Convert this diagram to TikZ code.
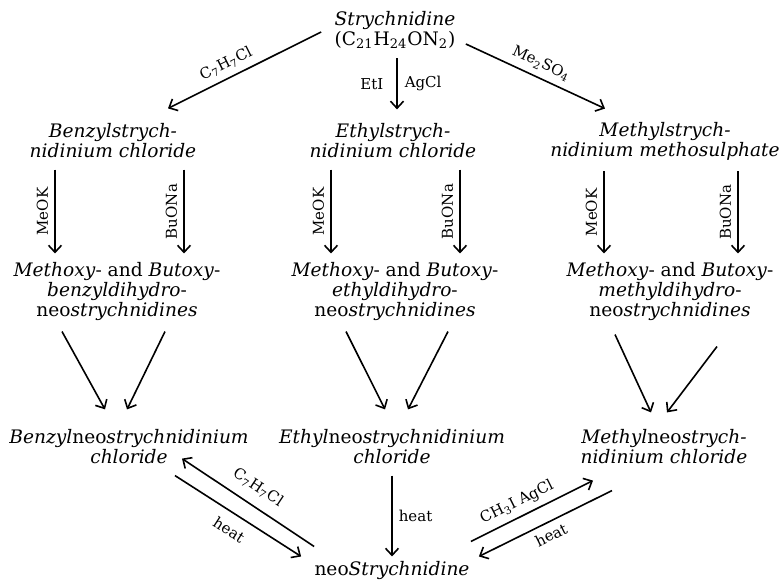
\documentclass[tikz,border=0pt]{standalone}
\usepackage{fontspec}
\setmainfont{DejaVu Serif}
\usetikzlibrary{positioning,arrows.meta}
\tikzset{cpd node/.style={align=center,inner sep=0pt,font=\fontsize{9.3}{10}\selectfont},
         reag node/.style={inner sep=3pt,font=\fontsize{7.5}{8}\selectfont},
            }

\begin{document}
\begin{tikzpicture}[x=0.5pt,y=-0.5pt,>={Straight Barb[length=3.5pt,width=6.5pt]}]
    \useasboundingbox (0,0) rectangle (782,581);

    \node[cpd node] (strych) at (395,30) {\textit{Strychnidine}\\(C\textsubscript{21}H\textsubscript{24}ON\textsubscript{2})};

    \node[cpd node] (benz) at (113,141) {\textit{Benzylstrych-}\\\textit{nidinium chloride}};
    \node[cpd node] (ethyl) at (393,141) {\textit{Ethylstrych-}\\\textit{nidinium chloride}};
    \node[cpd node] (methyl) at (665,141) {\textit{Methylstrych-}\\\textit{nidinium methosulphate}};

    \node[cpd node] (benzdh) at (117,292) {\textit{Methoxy}- and \textit{Butoxy}-\\\textit{benzyldihydro}-\\neo\textit{strychnidines}};
    \node[cpd node] (ethdh) at (395,292) {\textit{Methoxy}- and \textit{Butoxy}-\\\textit{ethyldihydro}-\\neo\textit{strychnidines}};
    \node[cpd node] (methdh) at (670,292) {\textit{Methoxy}- and \textit{Butoxy}-\\\textit{methyldihydro}-\\neo\textit{strychnidines}};

    \node[cpd node] (benzneo) at (129,447) {\textit{Benzyl}neo\textit{strychnidinium}\\\textit{chloride}};
    \node[cpd node] (ethneo) at (392,447) {\textit{Ethyl}neo\textit{strychnidinium}\\\textit{chloride}};
    \node[cpd node] (methneo) at (664,447) {\textit{Methyl}neo\textit{strych-}\\\textit{nidinium chloride}};

    \node[cpd node] (neo) at (392,571) {neo\textit{Strychnidine}};

    % quaternary salts
    \path[draw,thick]
    ([shift={(55,-15)}]benz.north) edge[<-] node[reag node,sloped,above,pos=0.42] {C\textsubscript{7}H\textsubscript{7}Cl} ([shift={(-13,2)}]strych.west)
    ([shift={(2,9)}]strych.south) edge[->] node[reag node,left=3.5pt] {EtI} node[reag node,right=0.5pt] {AgCl} ([shift={(4,-14)}]ethyl.north)
    ([shift={(10,14)}]strych.east) edge[->] node[reag node,sloped,above] {Me\textsubscript{2}SO\textsubscript{4}} ([shift={(-60,-13)}]methyl.north);

    % alkoxides
    \path[draw,thick]
    ([shift={(-58,11)}]benz.south) edge[->] node[reag node,rotate=90,anchor=south] {MeOK} ([shift={(-62,-9)}]benzdh.north)
    ([shift={(71,11)}]benz.south) edge[->] node[reag node,rotate=90,anchor=south] {BuONa} ([shift={(67,-9)}]benzdh.north)
    ([shift={(-62,11)}]ethyl.south) edge[->] node[reag node,rotate=90,anchor=south] {MeOK} ([shift={(-64,-9)}]ethdh.north)
    ([shift={(67,11)}]ethyl.south) edge[->] node[reag node,rotate=90,anchor=south] {BuONa} ([shift={(65,-9)}]ethdh.north)
    ([shift={(-61,11)}]methyl.south) edge[->] node[reag node,rotate=90,anchor=south] {MeOK} ([shift={(-66,-9)}]methdh.north)
    ([shift={(73,11)}]methyl.south) edge[->] node[reag node,rotate=90,anchor=south] {BuONa} ([shift={(68,-9)}]methdh.north);

    \path[draw,thick]
    ([shift={(-55,10)}]benzdh.south) edge[->] ([shift={(-24,-20)}]benzneo.north)
    ([shift={(48,10)}]benzdh.south) edge[->] ([shift={(-2,-20)}]benzneo.north)
    ([shift={(-49,10)}]ethdh.south) edge[->] ([shift={(-7,-20)}]ethneo.north)
    ([shift={(53,10)}]ethdh.south) edge[->] ([shift={(16,-20)}]ethneo.north)
    ([shift={(-55,13)}]methdh.south) edge[->] ([shift={(-13,-17)}]methneo.north)
    ([shift={(47,25)}]methdh.south) edge[->] ([shift={(3,-17)}]methneo.north);

    % to and from neostrychnidine
    \path[draw,thick]
    ([shift={(53,-6)}]benzneo.south) edge[<-] node[reag node,sloped,above,inner sep=5pt] {C\textsubscript{7}H\textsubscript{7}Cl} ([shift={(0,-15)}]neo.north west)
    ([shift={(46,11)}]benzneo.south) edge[->] node[reag node,sloped,below,inner sep=5pt] {heat} ([shift={(-13,-5)}]neo.north west)
    ([shift={(0,11)}]ethneo.south) edge[->] node[reag node,right] {heat} ([shift={(0,-5)}]neo.north)
    ([shift={(1,-20)}]neo.north east) edge[->] node[reag node,sloped,above,pos=0.43] {CH\textsubscript{3}I AgCl} ([shift={(-71,16)}]methneo.south)
    ([shift={(9,-5)}]neo.north east) edge[<-] node[reag node,sloped,below] {heat} ([shift={(-52,26)}]methneo.south);
\end{tikzpicture}
\end{document}
